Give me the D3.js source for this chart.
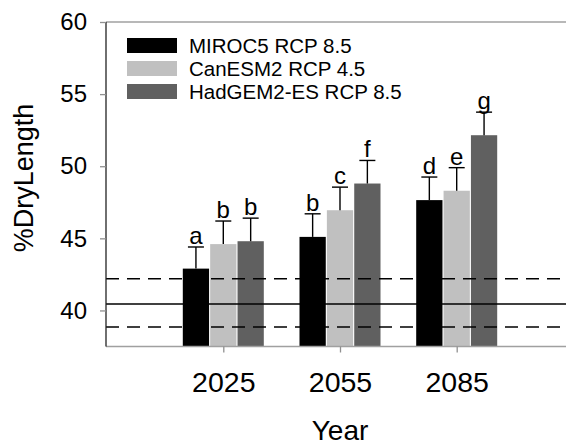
<!DOCTYPE html>
<html>
<head>
<meta charset="utf-8">
<script src="https://cdn.jsdelivr.net/npm/d3@7"></script>
<style>
  html, body { margin: 0; padding: 0; background: #fff; }
  svg { display: block; font-family: "Liberation Sans", Arial, sans-serif; }
</style>
</head>
<body>
<script>
const years = ["2025", "2055", "2085"];
const series = ["MIROC5 RCP 8.5", "CanESM2 RCP 4.5", "HadGEM2-ES RCP 8.5"];
const colors = ["#000000", "#c0c0c0", "#606060"];
const miroc = [42.9, 45.1, 47.65];
const canesm = [44.6, 46.95, 48.3];
const hadgem = [44.8, 48.8, 52.15];
const mirocErr = [1.5, 1.6, 1.6];
const canesmErr = [1.6, 1.6, 1.6];
const hadgemErr = [1.6, 1.6, 1.6];
const mirocLetters = ["a", "b", "d"];
const canesmLetters = ["b", "c", "e"];
const hadgemLetters = ["b", "f", "g"];
const yTicks = [40, 45, 50, 55, 60];
const baselineMean = 40.45;
const baselineBand = [38.85, 42.2];

const W = 566, H = 448;
const svg = d3.select("body").append("svg").attr("width", W).attr("height", H);

const left = 106, right = 566;
const y = d3.scaleLinear().domain([37.5, 60]).range([346.5, 22]);
const x = d3.scalePoint().domain(years).range([223.3, 456.7]);
const xs = d3.scaleBand().domain(series).range([-40.5, 40.5]).paddingInner(0.04);

const vals = [miroc, canesm, hadgem];
const errs = [mirocErr, canesmErr, hadgemErr];
const letters = [mirocLetters, canesmLetters, hadgemLetters];

const data = [];
series.forEach((s, si) => years.forEach((yr, yi) => data.push({
  s, si, yr, v: vals[si][yi], e: errs[si][yi], l: letters[si][yi]
})));

// bars
svg.append("g").selectAll("rect").data(data).join("rect")
  .attr("x", d => x(d.yr) + xs(d.s))
  .attr("width", xs.bandwidth())
  .attr("y", d => y(d.v))
  .attr("height", d => y.range()[0] - y(d.v))
  .attr("fill", d => colors[d.si]);

// error bars
const eg = svg.append("g").attr("stroke", "#000").attr("stroke-width", 1.4);
data.forEach(d => {
  const cx = x(d.yr) + xs(d.s) + xs.bandwidth() / 2;
  eg.append("line").attr("x1", cx).attr("x2", cx).attr("y1", y(d.v)).attr("y2", y(d.v + d.e));
  eg.append("line").attr("x1", cx - 8).attr("x2", cx + 8).attr("y1", y(d.v + d.e)).attr("y2", y(d.v + d.e));
});

// letters
svg.append("g").selectAll("text").data(data).join("text")
  .attr("x", d => x(d.yr) + xs(d.s) + xs.bandwidth() / 2)
  .attr("y", d => y(d.v + d.e) - 3)
  .attr("text-anchor", "middle")
  .attr("font-size", 24)
  .attr("fill", "#000")
  .text(d => d.l);

// reference lines
svg.append("line").attr("x1", left).attr("x2", right)
  .attr("y1", y(baselineMean)).attr("y2", y(baselineMean))
  .attr("stroke", "#000").attr("stroke-width", 1.5);
baselineBand.forEach(v => {
  svg.append("line").attr("x1", left).attr("x2", right)
    .attr("y1", y(v)).attr("y2", y(v))
    .attr("stroke", "#000").attr("stroke-width", 1.5)
    .attr("stroke-dasharray", "13,8");
});

// frame top & bottom
svg.append("line").attr("x1", left).attr("x2", right).attr("y1", y(60)).attr("y2", y(60))
  .attr("stroke", "#a0a0a0").attr("stroke-width", 1.5);
svg.append("line").attr("x1", left).attr("x2", right).attr("y1", y.range()[0]).attr("y2", y.range()[0])
  .attr("stroke", "#a0a0a0").attr("stroke-width", 1.5);

// y axis
const yAxis = svg.append("g").attr("transform", `translate(${left},0)`)
  .call(d3.axisLeft(y).tickValues(yTicks).tickSize(6).tickPadding(13).tickFormat(d3.format("d")));
yAxis.select(".domain").attr("stroke", "#222").attr("stroke-width", 1.3)
  .attr("d", `M0,${y(60)}V${y.range()[0]}`);
yAxis.selectAll(".tick line").attr("stroke", "#909090").attr("stroke-width", 1.3);
yAxis.selectAll(".tick text").attr("font-size", 24).attr("fill", "#000")
  .attr("font-family", "Liberation Sans, Arial, sans-serif");

// x axis
const xAxis = svg.append("g").attr("transform", `translate(0,${y.range()[0]})`)
  .call(d3.axisBottom(x).tickSize(6).tickPadding(19));
xAxis.select(".domain").remove();
xAxis.selectAll(".tick line").attr("stroke", "#909090").attr("stroke-width", 1.3);
xAxis.selectAll(".tick text").attr("font-size", 28.5).attr("fill", "#000")
  .attr("font-family", "Liberation Sans, Arial, sans-serif");

// axis titles
svg.append("text").attr("x", 340).attr("y", 440).attr("text-anchor", "middle")
  .attr("font-size", 28).text("Year");
svg.append("text").attr("transform", "translate(33,178) rotate(-90)")
  .attr("text-anchor", "middle").attr("font-size", 27).text("%DryLength");

// legend
const lg = svg.append("g");
series.forEach((s, i) => {
  const by = 53 + i * 23;
  lg.append("rect").attr("x", 127).attr("y", by - 15).attr("width", 50).attr("height", 15)
    .attr("fill", colors[i]);
  lg.append("text").attr("x", 189).attr("y", by).attr("font-size", 20.5).text(s);
});
</script>
</body>
</html>
